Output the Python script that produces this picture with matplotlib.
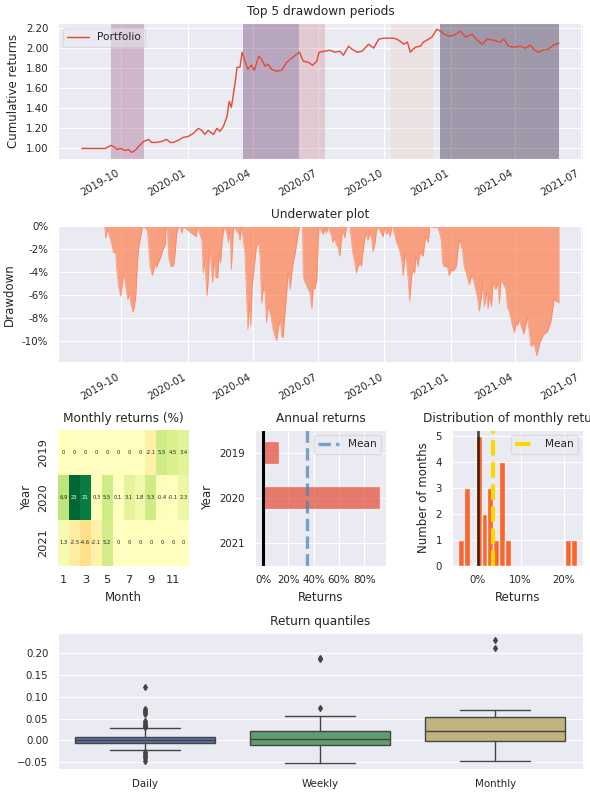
import numpy as np
import pandas as pd
import matplotlib
matplotlib.use('Agg')
import matplotlib.pyplot as plt
import matplotlib.dates as mdates
from matplotlib.ticker import FuncFormatter, MultipleLocator
from matplotlib import cbook
import seaborn as sns

# ---- datos ----
cum_dates = ['2019-08-07', '2019-09-09', '2019-09-16', '2019-09-20', '2019-09-25', '2019-09-30',
             '2019-10-06', '2019-10-11', '2019-10-15', '2019-10-20', '2019-10-25', '2019-11-01',
             '2019-11-08', '2019-11-12', '2019-11-19', '2019-11-26', '2019-12-03', '2019-12-08',
             '2019-12-12', '2019-12-19', '2019-12-26', '2020-01-02', '2020-01-09', '2020-01-16',
             '2020-01-21', '2020-01-25', '2020-01-30', '2020-02-06', '2020-02-11', '2020-02-15',
             '2020-02-20', '2020-02-25', '2020-02-28', '2020-03-02', '2020-03-07', '2020-03-10',
             '2020-03-14', '2020-03-17', '2020-03-21', '2020-03-25', '2020-03-30', '2020-04-03',
             '2020-04-09', '2020-04-13', '2020-04-18', '2020-04-22', '2020-04-27', '2020-05-04',
             '2020-05-11', '2020-05-18', '2020-05-25', '2020-06-01', '2020-06-05', '2020-06-10',
             '2020-06-17', '2020-06-23', '2020-06-29', '2020-07-02', '2020-07-10', '2020-07-17',
             '2020-07-24', '2020-07-31', '2020-08-05', '2020-08-12', '2020-08-17', '2020-08-24',
             '2020-08-31', '2020-09-09', '2020-09-16', '2020-09-23', '2020-09-30', '2020-10-07',
             '2020-10-14', '2020-10-21', '2020-10-28', '2020-11-02', '2020-11-06', '2020-11-13',
             '2020-11-20', '2020-11-24', '2020-11-29', '2020-12-06', '2020-12-13', '2020-12-18',
             '2020-12-23', '2020-12-30', '2021-01-06', '2021-01-15', '2021-01-22', '2021-01-31',
             '2021-02-07', '2021-02-14', '2021-02-21', '2021-03-02', '2021-03-11', '2021-03-16',
             '2021-03-23', '2021-03-30', '2021-04-08', '2021-04-15', '2021-04-22', '2021-04-28',
             '2021-05-03', '2021-05-10', '2021-05-17', '2021-05-24', '2021-06-01']
cum_values = [1.00, 1.00, 1.03, 1.02, 0.99, 1.00,
              0.98, 0.99, 0.96, 0.98, 1.02, 1.07,
              1.09, 1.06, 1.06, 1.07, 1.09, 1.06,
              1.06, 1.08, 1.11, 1.12, 1.15, 1.20,
              1.18, 1.14, 1.18, 1.14, 1.20, 1.17,
              1.22, 1.32, 1.47, 1.41, 1.64, 1.81,
              1.81, 1.96, 1.87, 1.79, 1.83, 1.78,
              1.92, 1.89, 1.82, 1.84, 1.79, 1.77,
              1.78, 1.86, 1.90, 1.94, 1.96, 1.87,
              1.86, 1.83, 1.87, 1.96, 1.97, 1.98,
              1.96, 1.97, 1.93, 2.02, 1.99, 1.96,
              1.97, 2.04, 2.00, 2.09, 2.10, 2.10,
              2.10, 2.08, 2.04, 2.06, 1.96, 2.01,
              2.02, 2.06, 2.08, 2.11, 2.19, 2.17,
              2.14, 2.12, 2.13, 2.17, 2.11, 2.14,
              2.08, 2.04, 2.09, 2.08, 2.06, 2.09,
              2.02, 2.01, 2.02, 2.00, 2.03, 1.98,
              1.96, 1.98, 1.99, 2.03, 2.05]

# periodos de drawdown (ordenados del mayor al menor)
dd_start = ['2020-12-18', '2020-03-18', '2019-09-16', '2020-06-04', '2020-10-10']
dd_end = ['2021-06-01', '2020-06-04', '2019-11-01', '2020-07-10', '2020-12-07']

uw_dates = ['2019-08-07', '2019-09-08', '2019-09-09', '2019-09-12', '2019-09-17', '2019-09-20',
            '2019-09-23', '2019-09-25', '2019-09-27', '2019-09-30', '2019-10-02', '2019-10-04',
            '2019-10-07', '2019-10-10', '2019-10-13', '2019-10-14', '2019-10-17', '2019-10-19',
            '2019-10-21', '2019-10-23', '2019-10-25', '2019-10-27', '2019-10-30', '2019-11-01',
            '2019-11-06', '2019-11-08', '2019-11-10', '2019-11-13', '2019-11-15', '2019-11-17',
            '2019-11-19', '2019-11-21', '2019-11-24', '2019-11-28', '2019-12-01', '2019-12-02',
            '2019-12-04', '2019-12-06', '2019-12-09', '2019-12-11', '2019-12-13', '2019-12-15',
            '2019-12-17', '2019-12-19', '2019-12-22', '2019-12-24', '2019-12-26', '2020-01-13',
            '2020-01-15', '2020-01-21', '2020-01-23', '2020-01-25', '2020-01-28', '2020-01-30',
            '2020-02-01', '2020-02-05', '2020-02-07', '2020-02-09', '2020-02-12', '2020-02-14',
            '2020-02-16', '2020-02-18', '2020-02-21', '2020-02-25', '2020-02-27', '2020-02-29',
            '2020-03-02', '2020-03-05', '2020-03-12', '2020-03-14', '2020-03-16', '2020-03-21',
            '2020-03-23', '2020-03-25', '2020-03-27', '2020-03-29', '2020-03-31', '2020-04-04',
            '2020-04-06', '2020-04-09', '2020-04-11', '2020-04-13', '2020-04-16', '2020-04-18',
            '2020-04-20', '2020-04-22', '2020-04-26', '2020-04-29', '2020-05-02', '2020-05-04',
            '2020-05-06', '2020-05-09', '2020-05-11', '2020-05-13', '2020-05-16', '2020-05-18',
            '2020-05-20', '2020-05-23', '2020-05-25', '2020-05-27', '2020-05-30', '2020-06-01',
            '2020-06-03', '2020-06-05', '2020-06-09', '2020-06-10', '2020-06-12', '2020-06-15',
            '2020-06-17', '2020-06-19', '2020-06-22', '2020-06-24', '2020-06-26', '2020-06-29',
            '2020-07-01', '2020-07-02', '2020-07-08', '2020-07-10', '2020-07-12', '2020-07-15',
            '2020-07-17', '2020-07-19', '2020-07-21', '2020-07-24', '2020-07-26', '2020-07-28',
            '2020-07-31', '2020-08-02', '2020-08-04', '2020-08-07', '2020-08-09', '2020-08-11',
            '2020-08-14', '2020-08-16', '2020-08-18', '2020-08-21', '2020-08-23', '2020-08-25',
            '2020-08-28', '2020-08-30', '2020-09-01', '2020-09-04', '2020-09-06', '2020-09-08',
            '2020-09-11', '2020-09-13', '2020-09-15', '2020-09-18', '2020-09-20', '2020-09-22',
            '2020-09-29', '2020-10-02', '2020-10-04', '2020-10-06', '2020-10-09', '2020-10-11',
            '2020-10-13', '2020-10-16', '2020-10-18', '2020-10-20', '2020-10-23', '2020-10-25',
            '2020-10-27', '2020-10-30', '2020-11-01', '2020-11-03', '2020-11-05', '2020-11-08',
            '2020-11-10', '2020-11-12', '2020-11-14', '2020-11-17', '2020-11-19', '2020-11-24',
            '2020-11-26', '2020-11-28', '2020-12-01', '2020-12-03', '2020-12-12', '2020-12-14',
            '2020-12-17', '2020-12-19', '2020-12-21', '2020-12-23', '2020-12-26', '2020-12-28',
            '2020-12-30', '2021-01-02', '2021-01-04', '2021-01-06', '2021-01-09', '2021-01-11',
            '2021-01-13', '2021-01-16', '2021-01-18', '2021-01-20', '2021-01-23', '2021-01-25',
            '2021-01-27', '2021-01-30', '2021-02-01', '2021-02-03', '2021-02-06', '2021-02-08',
            '2021-02-10', '2021-02-13', '2021-02-15', '2021-02-17', '2021-02-20', '2021-02-22',
            '2021-02-24', '2021-02-27', '2021-03-01', '2021-03-03', '2021-03-05', '2021-03-08',
            '2021-03-10', '2021-03-12', '2021-03-14', '2021-03-17', '2021-03-19', '2021-03-21',
            '2021-03-24', '2021-03-26', '2021-03-28', '2021-03-31', '2021-04-02', '2021-04-04',
            '2021-04-07', '2021-04-08', '2021-04-13', '2021-04-18', '2021-04-23', '2021-04-27',
            '2021-05-01', '2021-05-06', '2021-05-11', '2021-05-16', '2021-05-21', '2021-05-25',
            '2021-06-01']
uw_values = [0, 0, -1.0, -0.2, -1.4, -2.3,
             -2.2, -4.1, -5.2, -6.1, -5.2, -4.1,
             -5.2, -6.4, -5.8, -6.7, -7.5, -7.0,
             -6.1, -3.5, -1.9, -1.2, -0.1, 0,
             -0.3, -1.7, -3.5, -4.3, -3.8, -3.2,
             -3.6, -3.2, -2.8, -2.0, -1.6, 0,
             -0.3, -2.8, -3.5, -3.5, -3.3, -2.2,
             -0.6, -0.1, 0, -0.6, 0, -0.9,
             0, -1.2, -4.1, -2.9, -6.1, -4.6,
             -1.7, -4.9, -2.9, -4.4, -4.5, -2.3,
             -3.2, -1.4, 0, -0.6, -1.4, 0,
             -3.8, 0, -0.6, -1.2, 0, -2.3,
             -5.8, -9.0, -6.7, -8.7, -5.2, -2.9,
             -1.7, -1.4, -2.6, -6.7, -5.2, -5.8,
             -8.4, -7.0, -7.8, -9.0, -9.6, -10.0,
             -9.0, -8.1, -9.6, -9.7, -7.3, -5.8,
             -4.0, -5.5, -4.1, -3.2, -2.3, -1.4,
             -0.6, 0, 0, -4.3, -4.8, -5.2,
             -5.5, -5.7, -7.2, -5.2, -5.5, -4.6,
             -1.2, 0, -0.7, -0.1, -0.6, 0,
             -0.4, -0.7, -1.4, -1.0, -1.6, -1.7,
             -2.6, -1.2, -0.3, -1.0, -0.1, 0,
             0, -1.2, -2.3, -3.2, -4.1, -3.5,
             -3.2, -3.5, -2.3, -0.9, -0.6, -1.2,
             -0.6, -0.9, -2.2, -1.4, -0.3, 0,
             -0.9, 0, -0.7, -0.3, -0.9, 0,
             -0.1, -0.9, -1.4, -1.7, -2.3, -2.9,
             -4.3, -2.3, -3.2, -4.6, -6.5, -4.3,
             -3.8, -4.1, -2.6, -3.5, -2.3, -2.6,
             -1.4, -0.9, -1.4, 0, -0.1, 0,
             -0.6, -1.2, -3.2, -3.5, -3.5, -3.6,
             -4.3, -3.8, -3.9, -3.8, -3.5, -2.3,
             -1.2, -1.7, -2.3, -3.5, -4.1, -4.6,
             -5.1, -4.3, -4.5, -4.9, -5.8, -6.4,
             -7.4, -6.1, -4.9, -7.0, -5.8, -7.2,
             -6.1, -7.0, -4.9, -5.2, -5.5, -4.9,
             -6.8, -4.6, -4.9, -5.2, -5.5, -7.0,
             -7.5, -8.1, -8.7, -9.3, -8.4, -8.7,
             -8.1, -8.5, -9.4, -8.0, -10.5, -10.2,
             -11.3, -10.0, -9.4, -9.2, -8.2, -6.4,
             -6.7]

# rendimientos mensuales (%), NaN = mes sin datos
years = [2019, 2020, 2021]
months = list(range(1, 13))
ret_2019 = [np.nan, np.nan, np.nan, np.nan, np.nan, np.nan, np.nan, 0.0, -2.1, 5.5, 4.5, 3.4]
ret_2020 = [6.9, 23.0, 21.0, 0.3, 5.5, 0.1, 3.1, 1.8, 5.3, -0.4, -0.1, 2.34]
ret_2021 = [1.3, -2.5, -4.6, -2.1, 5.2, np.nan, np.nan, np.nan, np.nan, np.nan, np.nan, np.nan]

annual_ret = [12.5, 92.5, -1.8]   # %, 2019, 2020, 2021

# cuantiles de retornos: q1, mediana, q3, bigote inferior, bigote superior
daily_box = [-0.006, 0.001, 0.009, -0.021, 0.028]
daily_fliers = [0.121, 0.071, 0.067, 0.064, 0.061, 0.045, 0.040, 0.036, 0.032, 0.030,
                -0.027, -0.031, -0.035, -0.041, -0.046]
weekly_box = [-0.010, 0.003, 0.021, -0.051, 0.055]
weekly_fliers = [0.074, 0.185, 0.189]
box_labels = ['Daily', 'Weekly', 'Monthly']

# ---- estilo ----
sns.set_style('darkgrid')
plt.rcParams['font.family'] = ['DejaVu Sans']
plt.rcParams['axes.titlesize'] = 8.7
plt.rcParams['axes.labelsize'] = 8.5
plt.rcParams['xtick.labelsize'] = 7.4
plt.rcParams['ytick.labelsize'] = 7.4
plt.rcParams['legend.fontsize'] = 7.6

fig = plt.figure(figsize=(5.9, 8.09), dpi=100)
gs = fig.add_gridspec(4, 3, left=0.0983, right=0.988, top=0.9716, bottom=0.0494,
                      wspace=0.5, hspace=0.5)

pct = FuncFormatter(lambda x, pos: '{:.0f}%'.format(x))

def date_axis(ax):
    ax.xaxis.set_major_locator(mdates.MonthLocator(bymonth=[1, 4, 7, 10]))
    ax.xaxis.set_major_formatter(mdates.DateFormatter('%Y-%m'))
    plt.setp(ax.get_xticklabels(), rotation=30, ha='right')

# 1) retornos acumulados con los 5 peores drawdowns
ax1 = fig.add_subplot(gs[0, :])
ax1.plot(pd.to_datetime(cum_dates), cum_values, color='#E24A33', lw=1.0, label='Portfolio')
lim = ax1.get_ylim()
colors = sns.cubehelix_palette(len(dd_start))[::-1]
for i in range(len(dd_start)):
    ax1.fill_between(pd.to_datetime([dd_start[i], dd_end[i]]), lim[0], lim[1],
                     alpha=0.4, color=colors[i], lw=0)
ax1.set_ylim(lim)
ax1.yaxis.set_major_locator(MultipleLocator(0.2))
ax1.yaxis.set_major_formatter(FuncFormatter(lambda x, pos: '{:.2f}'.format(x)))
ax1.set_ylabel('Cumulative returns')
ax1.set_title('Top 5 drawdown periods')
ax1.legend(loc='upper left', frameon=True, framealpha=0.5)
date_axis(ax1)

# 2) grafico underwater
ax2 = fig.add_subplot(gs[1, :])
uw_x = pd.to_datetime(uw_dates)
ax2.fill_between(uw_x, uw_values, 0, color='coral', alpha=0.7, lw=0)
ax2.plot(uw_x, uw_values, color='coral', alpha=0.7, lw=0.6)
ax2.set_xlim(ax1.get_xlim())
ax2.set_ylim(top=0)
ax2.yaxis.set_major_locator(MultipleLocator(2))
ax2.yaxis.set_major_formatter(pct)
ax2.set_ylabel('Drawdown')
ax2.set_title('Underwater plot')
date_axis(ax2)

# 3) mapa de calor mensual
monthly = pd.DataFrame([ret_2019, ret_2020, ret_2021], index=years, columns=months)
ax3 = fig.add_subplot(gs[2, 0])
sns.heatmap(monthly.fillna(0), annot=True, annot_kws={'size': 3.8}, center=0.0,
            cbar=False, cmap='RdYlGn', ax=ax3, xticklabels=2)
plt.setp(ax3.get_yticklabels(), rotation=90, va='center', fontsize=8.2)
plt.setp(ax3.get_xticklabels(), rotation=0, fontsize=8.2)
ax3.set_ylabel('Year')
ax3.set_xlabel('Month')
ax3.set_title('Monthly returns (%)')

# 4) retornos anuales
ax4 = fig.add_subplot(gs[2, 1])
ypos = np.arange(len(years))[::-1]
ax4.axvline(np.mean(annual_ret), color='steelblue', ls='--', lw=2.4, alpha=0.7, label='Mean')
ax4.axvline(0.0, color='black', ls='-', lw=2.2)
ax4.barh(ypos, annual_ret, height=0.5, color='#E24A33', alpha=0.7, zorder=1.5)
ax4.set_yticks(ypos)
ax4.set_yticklabels([str(y) for y in years])
ax4.set_ylim(-0.5, 2.5)
ax4.xaxis.set_major_locator(MultipleLocator(20))
ax4.xaxis.set_major_formatter(pct)
ax4.set_ylabel('Year')
ax4.set_xlabel('Returns')
ax4.set_title('Annual returns')
ax4.legend(loc='upper right', frameon=True, framealpha=0.5)

# 5) distribucion de retornos mensuales
month_vals = monthly.stack().dropna().values
ax5 = fig.add_subplot(gs[2, 2])
ax5.hist(month_vals, color='orangered', alpha=0.8, bins=20)
ax5.axvline(month_vals.mean(), color='gold', ls='--', lw=3, alpha=1.0, label='Mean')
ax5.axvline(0.0, color='black', ls='-', lw=1.8, alpha=0.75)
ax5.xaxis.set_major_locator(MultipleLocator(10))
ax5.xaxis.set_major_formatter(pct)
ax5.yaxis.set_major_locator(MultipleLocator(1))
ax5.set_ylabel('Number of months')
ax5.set_xlabel('Returns')
ax5.set_title('Distribution of monthly returns')
ax5.legend(loc='upper right', frameon=True, framealpha=0.5)

# 6) cuantiles de retornos
def box_stats(b, fl):
    return {'q1': b[0], 'med': b[1], 'q3': b[2], 'whislo': b[3], 'whishi': b[4],
            'fliers': np.array(fl)}

stats = [box_stats(daily_box, daily_fliers), box_stats(weekly_box, weekly_fliers),
         cbook.boxplot_stats(month_vals / 100.0)[0]]
ax6 = fig.add_subplot(gs[3, :])
gray = '#444444'
bp = ax6.bxp(stats, positions=[0, 1, 2], widths=0.8, patch_artist=True,
             boxprops=dict(edgecolor=gray, lw=1),
             whiskerprops=dict(color=gray, lw=1), capprops=dict(color=gray, lw=1),
             medianprops=dict(color=gray, lw=1),
             flierprops=dict(marker='d', markerfacecolor=gray, markeredgecolor=gray,
                             markersize=3))
for patch, c in zip(bp['boxes'], ['#4c72B0', '#55A868', '#CCB974']):
    patch.set_facecolor(sns.desaturate(c, 0.75))
ax6.set_xticks([0, 1, 2])
ax6.set_xticklabels(box_labels)
ax6.set_xlim(-0.5, 2.5)
ax6.xaxis.grid(False)
ax6.yaxis.set_major_locator(MultipleLocator(0.05))
ax6.set_title('Return quantiles')

fig.savefig('out.png', dpi=100)
